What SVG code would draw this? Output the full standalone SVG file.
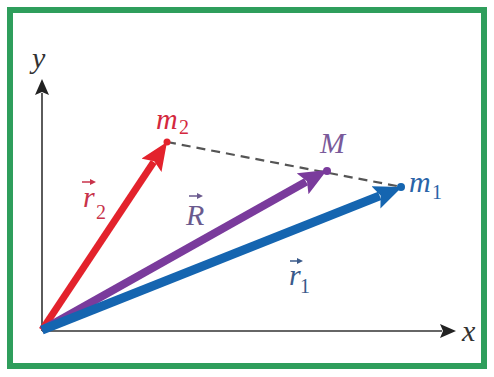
<svg xmlns="http://www.w3.org/2000/svg" width="494" height="377" viewBox="0 0 494 377">
<defs>
<style>
.lbl{font-family:"Liberation Serif","DejaVu Serif",serif;font-style:italic;font-size:30px}
.sub{font-family:"Liberation Serif","DejaVu Serif",serif;font-size:20px}
.axis{stroke:#333;stroke-width:1.6;fill:none}
.vec{fill:none;stroke-linecap:butt}
.ov{stroke-width:1.5;fill:none}
</style>
<marker id="ahK" markerUnits="userSpaceOnUse" markerWidth="18" markerHeight="16" refX="2" refY="7" orient="auto"><path d="M0,0 L16,7 L0,14 L3,7 z" fill="#222"/></marker>
<marker id="ahR" markerUnits="userSpaceOnUse" markerWidth="30" markerHeight="26" refX="4" refY="12" orient="auto"><path d="M0,0 L28,12 L0,24 L5,12 z" fill="#e3222c"/></marker>
<marker id="ahP" markerUnits="userSpaceOnUse" markerWidth="30" markerHeight="26" refX="4" refY="12" orient="auto"><path d="M0,0 L28,12 L0,24 L5,12 z" fill="#7a3b9c"/></marker>
<marker id="ahB" markerUnits="userSpaceOnUse" markerWidth="30" markerHeight="26" refX="4" refY="12" orient="auto"><path d="M0,0 L28,12 L0,24 L5,12 z" fill="#1565b0"/></marker>
</defs>
<rect x="0" y="0" width="494" height="377" fill="#ffffff"/>
<rect id="frame" x="10" y="10" width="474" height="356" fill="#ffffff" stroke="#2f9e5c" stroke-width="6"/>
<g id="connectors">
<line class="axis" x1="42" y1="331" x2="442" y2="331" marker-end="url(#ahK)"/>
<line class="axis" x1="42" y1="331" x2="42" y2="93" marker-end="url(#ahK)"/>
<line x1="167" y1="142" x2="402" y2="187" stroke="#555" stroke-width="2.2" stroke-dasharray="9,6"/>
<line class="vec" x1="42" y1="330" x2="153.7" y2="162" stroke="#e3222c" stroke-width="7" marker-end="url(#ahR)"/>
<line class="vec" x1="42" y1="330" x2="306.1" y2="181.75" stroke="#7a3b9c" stroke-width="8" marker-end="url(#ahP)"/>
<line class="vec" x1="42" y1="330" x2="379.7" y2="195.9" stroke="#1565b0" stroke-width="9" marker-end="url(#ahB)"/>
</g>
<g id="axis-x"><text class="lbl" x="462" y="341" fill="#333">x</text></g>
<g id="axis-y"><text class="lbl" x="32" y="68" fill="#333">y</text></g>
<g id="m2">
<circle cx="167" cy="142" r="3.5" fill="#e3222c"/>
<text class="lbl" x="156" y="129" fill="#d4283e">m</text><text class="sub" x="179" y="134" fill="#d4283e">2</text>
</g>
<g id="M">
<circle cx="327" cy="171" r="4" fill="#7a3b9c"/>
<text class="lbl" x="320" y="153" fill="#7a5a9a">M</text>
</g>
<g id="m1">
<circle cx="401" cy="187" r="4" fill="#1565b0"/>
<text class="lbl" x="409" y="192" fill="#2a64a8">m</text><text class="sub" x="432" y="199" fill="#2a64a8">1</text>
</g>
<g id="r2">
<text class="lbl" x="83" y="207" fill="#c8324a">r</text><text class="sub" x="96" y="219" fill="#c8324a">2</text>
<line class="ov" x1="82" y1="182" x2="93" y2="182" stroke="#c8324a"/><path d="M90,179 L96,182 L90,185 z" fill="#c8324a"/>
</g>
<g id="R">
<text class="lbl" x="186" y="225" fill="#6a5a8e">R</text>
<line class="ov" x1="189" y1="196" x2="200" y2="196" stroke="#6a5a8e"/><path d="M197,193 L203,196 L197,199 z" fill="#6a5a8e"/>
</g>
<g id="r1">
<text class="lbl" x="289" y="285" fill="#3a5a8a">r</text><text class="sub" x="300" y="293" fill="#3a5a8a">1</text>
<line class="ov" x1="290" y1="261" x2="300" y2="261" stroke="#3a5a8a"/><path d="M297,258 L303,261 L297,264 z" fill="#3a5a8a"/>
</g>
</svg>
